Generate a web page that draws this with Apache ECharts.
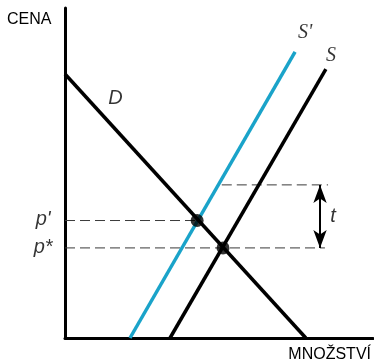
<!DOCTYPE html>
<html><head><meta charset="utf-8">
<script src="https://cdn.jsdelivr.net/npm/echarts@6/dist/echarts.min.js"></script>
<style>html,body{margin:0;padding:0;background:#fff}#c{width:374px;height:364px}</style>
</head><body><div id="c"></div>
<script>
// Data (quantity 0-100, price 0-100)
const demand = [[0, 80], [78.2, 0]];
const supplyTax = [[21.1, 0], [74.7, 86.7]];   // S'
const supply = [[34.1, 0], [84.7, 81.5]];      // S
const equilibria = [[42.9, 35.6], [51.3, 27.3]];
const priceLevels = { pPrime: 35.6, pStar: 27.3, pTop: 46.4 };
const dashedSegments = [
  [[0, 35.6], [42.9, 35.6]],
  [[0, 27.3], [84.4, 27.3]],
  [[50.9, 46.4], [85.4, 46.4]]
];
const arrowX = 82.8;
const axisNames = { y: 'CENA', x: 'MNOŽSTVÍ' };
const curveLabels = [
  { name: 'D', value: [16.4, 72.5], serif: false },
  { name: "S'", value: [78.0, 92.6], serif: true },
  { name: 'S', value: [86.4, 85.5], serif: true },
  { name: "p'", value: [-7.1, 36.0], serif: false },
  { name: 'p*', value: [-7.1, 27.3], serif: false },
  { name: 't', value: [87.0, 36.9], serif: false }
];

const chart = echarts.init(document.getElementById('c'), null, { renderer: 'canvas' });
const blue = '#1aa3c9';
const dashSeries = dashedSegments.map(seg => ({
  type: 'line', data: seg, symbol: 'none', silent: true, z: 1,
  lineStyle: { color: '#3a3a3a', width: 1, type: [10, 5] }
}));
chart.setOption({
  animation: false,
  grid: { left: 65, top: 8, right: 1, bottom: 26 },
  xAxis: {
    type: 'value', min: 0, max: 100,
    axisLine: { show: true, onZero: false, lineStyle: { color: '#000', width: 3 } },
    axisTick: { show: false }, axisLabel: { show: false }, splitLine: { show: false }
  },
  yAxis: {
    type: 'value', min: 0, max: 100,
    axisLine: { show: true, onZero: false, lineStyle: { color: '#000', width: 3 } },
    axisTick: { show: false }, axisLabel: { show: false }, splitLine: { show: false }
  },
  graphic: [
    { type: 'text', left: 7, top: 12, style: { text: axisNames.y, font: '16px "Liberation Sans", Arial, sans-serif', fill: '#000' } },
    { type: 'text', right: 3, top: 347, style: { text: axisNames.x, font: '16px "Liberation Sans", Arial, sans-serif', fill: '#000' } }
  ],
  series: [
    ...dashSeries,
    {
      type: 'line', data: [], symbol: 'none', silent: true,
      markLine: {
        silent: true, symbol: ['arrow', 'arrow'], symbolSize: [10, 18],
        label: { show: false },
        lineStyle: { color: '#000', width: 2, type: 'solid' },
        data: [[{ coord: [arrowX, priceLevels.pStar] }, { coord: [arrowX, priceLevels.pTop] }]]
      }
    },
    { type: 'line', data: demand, symbol: 'none', lineStyle: { color: '#000', width: 3.5 }, z: 3 },
    { type: 'line', data: supplyTax, symbol: 'none', lineStyle: { color: blue, width: 3.5 }, z: 2 },
    { type: 'line', data: supply, symbol: 'none', lineStyle: { color: '#000', width: 3.5 }, z: 3 },
    { type: 'scatter', data: equilibria, symbolSize: 13, itemStyle: { color: '#000' }, z: 5 },
    {
      type: 'scatter', symbolSize: 0, clip: false, silent: true, z: 6,
      data: curveLabels.map(l => ({
        name: l.name, value: l.value,
        label: {
          show: true, position: 'inside', formatter: l.name, color: '#000',
          fontStyle: 'italic',
          fontFamily: l.serif ? '"Liberation Serif", "DejaVu Serif", serif' : '"Liberation Sans", Arial, sans-serif',
          fontSize: 20
        }
      }))
    }
  ]
});
</script></body></html>
